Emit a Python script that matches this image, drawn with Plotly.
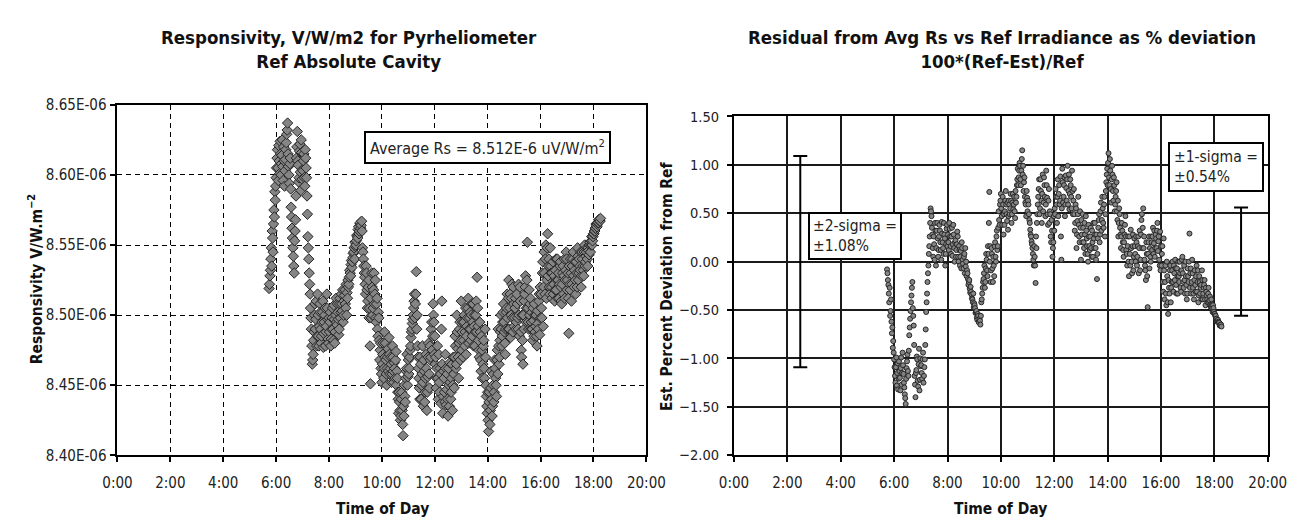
import plotly.graph_objects as go

# ---------------- data ----------------
# sampling times, minutes after midnight (even-minute readings)
minutes_even = [
    344, 346, 348, 350, 352, 354, 356, 358,
    360, 362, 364, 366, 368, 370, 372, 374, 376, 378, 380, 382, 384, 386, 388, 390, 392, 394, 396, 398, 400, 402, 404, 406, 408, 410, 412, 414, 416, 418, 420,
    422, 424, 426, 428, 430, 432, 434, 436, 438, 440, 442, 444, 446, 448, 450, 452, 454, 456, 458, 460, 462, 464, 466, 468, 470, 472, 474, 476, 478, 480,
    482, 484, 486, 488, 490, 492, 494, 496, 498, 500, 502, 504, 506, 508, 510, 512, 514, 516, 518, 520, 522, 524, 526, 528, 530, 532, 534, 536, 538, 540,
    542, 544, 546, 548, 550, 552, 554, 556, 558, 560, 562, 564, 566, 568, 570, 572, 574, 576, 578, 580, 582, 584, 586, 588, 590, 592, 594, 596, 598, 600,
    602, 604, 606, 608, 610, 612, 614, 616, 618, 620, 622, 624, 626, 628, 630, 632, 634, 636, 638, 640, 642, 644, 646, 648, 650, 652, 654, 656, 658, 660,
    662, 664, 666, 668, 670, 672, 674, 676, 678, 680, 682, 684, 686, 688, 690, 692, 694, 696, 698, 700, 702, 704, 706, 708, 710, 712, 714, 716, 718, 720,
    722, 724, 726, 728, 730, 732, 734, 736, 738, 740, 742, 744, 746, 748, 750, 752, 754, 756, 758, 760, 762, 764, 766, 768, 770, 772, 774, 776, 778, 780,
    782, 784, 786, 788, 790, 792, 794, 796, 798, 800, 802, 804, 806, 808, 810, 812, 814, 816, 818, 820, 822, 824, 826, 828, 830, 832, 834, 836, 838, 840,
    842, 844, 846, 848, 850, 852, 854, 856, 858, 860, 862, 864, 866, 868, 870, 872, 874, 876, 878, 880, 882, 884, 886, 888, 890, 892, 894, 896, 898, 900,
    902, 904, 906, 908, 910, 912, 914, 916, 918, 920, 922, 924, 926, 928, 930, 932, 934, 936, 938, 940, 942, 944, 946, 948, 950, 952, 954, 956, 958, 960,
    962, 964, 966, 968, 970, 972, 974, 976, 978, 980, 982, 984, 986, 988, 990, 992, 994, 996, 998, 1000, 1002, 1004, 1006, 1008, 1010, 1012, 1014, 1016, 1018, 1020,
    1022, 1024, 1026, 1028, 1030, 1032, 1034, 1036, 1038, 1040, 1042, 1044, 1046, 1048, 1050, 1052, 1054, 1056, 1058, 1060, 1062, 1064, 1066, 1068, 1070, 1072, 1074, 1076, 1078, 1080, 1082, 1084, 1086, 1088, 1090, 1092, 1094, 1096,
]
# odd-minute readings
minutes_odd = [
    345, 347, 349, 351, 353, 355, 357, 359,
    361, 363, 365, 367, 369, 371, 373, 375, 377, 379, 381, 383, 385, 387, 389, 391, 393, 395, 397, 399, 401, 403, 405, 407, 409, 411, 413, 415, 417, 419,
    421, 423, 425, 427, 429, 431, 433, 435, 437, 439, 441, 443, 445, 447, 449, 451, 453, 455, 457, 459, 461, 463, 465, 467, 469, 471, 473, 475, 477, 479,
    481, 483, 485, 487, 489, 491, 493, 495, 497, 499, 501, 503, 505, 507, 509, 511, 513, 515, 517, 519, 521, 523, 525, 527, 529, 531, 533, 535, 537, 539,
    541, 543, 545, 547, 549, 551, 553, 555, 557, 559, 561, 563, 565, 567, 569, 571, 573, 575, 577, 579, 581, 583, 585, 587, 589, 591, 593, 595, 597, 599,
    601, 603, 605, 607, 609, 611, 613, 615, 617, 619, 621, 623, 625, 627, 629, 631, 633, 635, 637, 639, 641, 643, 645, 647, 649, 651, 653, 655, 657, 659,
    661, 663, 665, 667, 669, 671, 673, 675, 677, 679, 681, 683, 685, 687, 689, 691, 693, 695, 697, 699, 701, 703, 705, 707, 709, 711, 713, 715, 717, 719,
    721, 723, 725, 727, 729, 731, 733, 735, 737, 739, 741, 743, 745, 747, 749, 751, 753, 755, 757, 759, 761, 763, 765, 767, 769, 771, 773, 775, 777, 779,
    781, 783, 785, 787, 789, 791, 793, 795, 797, 799, 801, 803, 805, 807, 809, 811, 813, 815, 817, 819, 821, 823, 825, 827, 829, 831, 833, 835, 837, 839,
    841, 843, 845, 847, 849, 851, 853, 855, 857, 859, 861, 863, 865, 867, 869, 871, 873, 875, 877, 879, 881, 883, 885, 887, 889, 891, 893, 895, 897, 899,
    901, 903, 905, 907, 909, 911, 913, 915, 917, 919, 921, 923, 925, 927, 929, 931, 933, 935, 937, 939, 941, 943, 945, 947, 949, 951, 953, 955, 957, 959,
    961, 963, 965, 967, 969, 971, 973, 975, 977, 979, 981, 983, 985, 987, 989, 991, 993, 995, 997, 999, 1001, 1003, 1005, 1007, 1009, 1011, 1013, 1015, 1017, 1019,
    1021, 1023, 1025, 1027, 1029, 1031, 1033, 1035, 1037, 1039, 1041, 1043, 1045, 1047, 1049, 1051, 1053, 1055, 1057, 1059, 1061, 1063, 1065, 1067, 1069, 1071, 1073, 1075, 1077, 1079, 1081, 1083, 1085, 1087, 1089, 1091, 1093, 1095,
]

# Responsivity (units of 1E-06 V/W/m2), even minutes, per hour block
rs_e_05 = [8.519, 8.528, 8.54, 8.535, 8.555, 8.565, 8.57, 8.582]
rs_e_06 = [8.598, 8.612, 8.605, 8.621, 8.601, 8.615, 8.608, 8.625, 8.596, 8.61,
           8.603, 8.618, 8.629, 8.637, 8.606, 8.594, 8.612, 8.577, 8.562, 8.548,
           8.535, 8.553, 8.568, 8.612, 8.631, 8.607, 8.598, 8.622, 8.589, 8.616, 8.604]
rs_e_07 = [8.61, 8.598, 8.618, 8.605, 8.585, 8.556, 8.54, 8.522, 8.505, 8.49,
           8.465, 8.472, 8.488, 8.508, 8.497, 8.478, 8.515, 8.485, 8.492, 8.502,
           8.48, 8.495, 8.51, 8.487, 8.5, 8.478, 8.492, 8.505, 8.483, 8.498]
rs_e_08 = [8.495, 8.478, 8.49, 8.505, 8.482, 8.497, 8.488, 8.512, 8.493, 8.502,
           8.486, 8.508, 8.498, 8.515, 8.503, 8.495, 8.51, 8.518, 8.505, 8.5,
           8.512, 8.52, 8.527, 8.53, 8.536, 8.534, 8.541, 8.545, 8.54, 8.549]
rs_e_09 = [8.553, 8.556, 8.561, 8.558, 8.565, 8.562, 8.567, 8.548, 8.54, 8.53,
           8.522, 8.535, 8.518, 8.51, 8.525, 8.505, 8.451, 8.498, 8.52, 8.505,
           8.53, 8.515, 8.498, 8.508, 8.49, 8.502, 8.482, 8.475, 8.462, 8.452]
rs_e_10 = [8.472, 8.455, 8.488, 8.48, 8.458, 8.462, 8.476, 8.484, 8.458, 8.47,
           8.452, 8.478, 8.46, 8.466, 8.455, 8.474, 8.46, 8.445, 8.43, 8.438,
           8.425, 8.44, 8.432, 8.414, 8.428, 8.442, 8.455, 8.462, 8.45, 8.468]
rs_e_11 = [8.462, 8.475, 8.484, 8.49, 8.497, 8.505, 8.515, 8.508, 8.531, 8.5,
           8.47, 8.455, 8.44, 8.465, 8.45, 8.478, 8.435, 8.46, 8.445, 8.472,
           8.432, 8.456, 8.48, 8.448, 8.468, 8.49, 8.475, 8.508, 8.495, 8.485]
rs_e_12 = [8.47, 8.455, 8.478, 8.44, 8.452, 8.462, 8.437, 8.51, 8.43, 8.46,
           8.445, 8.472, 8.436, 8.458, 8.428, 8.45, 8.466, 8.44, 8.455, 8.432,
           8.47, 8.448, 8.485, 8.462, 8.5, 8.476, 8.455, 8.49, 8.468, 8.51]
rs_e_13 = [8.488, 8.47, 8.495, 8.478, 8.505, 8.485, 8.498, 8.512, 8.49, 8.502,
           8.482, 8.508, 8.495, 8.478, 8.5, 8.488, 8.51, 8.527, 8.492, 8.475,
           8.495, 8.468, 8.485, 8.455, 8.478, 8.462, 8.49, 8.45, 8.435, 8.445]
rs_e_14 = [8.417, 8.445, 8.432, 8.46, 8.428, 8.45, 8.438, 8.468, 8.455, 8.442,
           8.475, 8.49, 8.465, 8.482, 8.5, 8.478, 8.495, 8.508, 8.488, 8.472,
           8.502, 8.515, 8.49, 8.525, 8.505, 8.484, 8.512, 8.498, 8.52, 8.492]
rs_e_15 = [8.505, 8.49, 8.515, 8.498, 8.522, 8.485, 8.51, 8.475, 8.5, 8.465,
           8.49, 8.515, 8.528, 8.505, 8.552, 8.495, 8.518, 8.508, 8.49, 8.502,
           8.482, 8.496, 8.508, 8.488, 8.5, 8.478, 8.494, 8.51, 8.486, 8.498]
rs_e_16 = [8.505, 8.53, 8.492, 8.545, 8.515, 8.55, 8.525, 8.558, 8.535, 8.52,
           8.548, 8.53, 8.512, 8.538, 8.522, 8.51, 8.532, 8.518, 8.54, 8.525,
           8.512, 8.535, 8.52, 8.508, 8.53, 8.515, 8.54, 8.525, 8.545, 8.518]
rs_e_17 = [8.53, 8.487, 8.522, 8.54, 8.51, 8.535, 8.545, 8.52, 8.538, 8.515,
           8.53, 8.548, 8.525, 8.54, 8.532, 8.52, 8.545, 8.535, 8.528, 8.55,
           8.538, 8.545, 8.54, 8.548, 8.543, 8.552, 8.55, 8.556, 8.553, 8.558,
           8.56, 8.562, 8.565, 8.563, 8.566, 8.568, 8.567, 8.569]

# Responsivity, odd minutes
rs_o_05 = [8.522, 8.532, 8.548, 8.56, 8.545, 8.575, 8.588, 8.592]
rs_o_06 = [8.605, 8.618, 8.596, 8.61, 8.624, 8.6, 8.614, 8.606, 8.62, 8.592,
           8.611, 8.623, 8.632, 8.615, 8.6, 8.608, 8.59, 8.57, 8.555, 8.542,
           8.53, 8.56, 8.585, 8.62, 8.61, 8.595, 8.617, 8.602, 8.625, 8.597]
rs_o_07 = [8.603, 8.615, 8.592, 8.612, 8.598, 8.572, 8.548, 8.53, 8.515, 8.498,
           8.478, 8.468, 8.482, 8.5, 8.49, 8.51, 8.485, 8.5, 8.478, 8.508,
           8.49, 8.485, 8.502, 8.477, 8.495, 8.505, 8.488, 8.515, 8.497, 8.48]
rs_o_08 = [8.488, 8.502, 8.483, 8.498, 8.49, 8.507, 8.48, 8.5, 8.495, 8.508,
           8.497, 8.49, 8.512, 8.502, 8.508, 8.518, 8.5, 8.514, 8.508, 8.522,
           8.516, 8.525, 8.522, 8.532, 8.528, 8.539, 8.538, 8.544, 8.548, 8.552]
rs_o_09 = [8.55, 8.557, 8.555, 8.563, 8.56, 8.566, 8.564, 8.56, 8.545, 8.535,
           8.527, 8.515, 8.53, 8.505, 8.52, 8.498, 8.478, 8.512, 8.53, 8.5,
           8.518, 8.508, 8.525, 8.495, 8.512, 8.485, 8.498, 8.468, 8.48, 8.458]
rs_o_10 = [8.465, 8.48, 8.462, 8.47, 8.468, 8.45, 8.47, 8.46, 8.472, 8.462,
           8.465, 8.458, 8.47, 8.452, 8.462, 8.468, 8.45, 8.455, 8.44, 8.445,
           8.432, 8.428, 8.445, 8.422, 8.435, 8.45, 8.438, 8.46, 8.472, 8.456]
rs_o_11 = [8.458, 8.47, 8.478, 8.488, 8.494, 8.5, 8.51, 8.498, 8.515, 8.49,
           8.478, 8.462, 8.448, 8.47, 8.44, 8.458, 8.452, 8.468, 8.438, 8.455,
           8.462, 8.445, 8.47, 8.458, 8.478, 8.47, 8.495, 8.485, 8.5, 8.472]
rs_o_12 = [8.465, 8.448, 8.462, 8.455, 8.472, 8.445, 8.458, 8.49, 8.465, 8.442,
           8.455, 8.438, 8.462, 8.447, 8.44, 8.462, 8.435, 8.452, 8.445, 8.465,
           8.45, 8.458, 8.47, 8.478, 8.465, 8.488, 8.47, 8.48, 8.495, 8.482]
rs_o_13 = [8.475, 8.495, 8.482, 8.5, 8.488, 8.472, 8.492, 8.505, 8.48, 8.498,
           8.49, 8.5, 8.485, 8.508, 8.492, 8.478, 8.5, 8.488, 8.505, 8.482,
           8.47, 8.488, 8.46, 8.475, 8.465, 8.482, 8.455, 8.47, 8.442, 8.43]
rs_o_14 = [8.425, 8.438, 8.422, 8.448, 8.44, 8.435, 8.458, 8.445, 8.462, 8.45,
           8.468, 8.458, 8.478, 8.47, 8.488, 8.49, 8.485, 8.502, 8.495, 8.48,
           8.49, 8.505, 8.498, 8.512, 8.49, 8.515, 8.5, 8.522, 8.488, 8.508]
rs_o_15 = [8.498, 8.512, 8.495, 8.508, 8.49, 8.5, 8.52, 8.488, 8.47, 8.482,
           8.5, 8.51, 8.52, 8.495, 8.525, 8.505, 8.49, 8.5, 8.512, 8.495,
           8.49, 8.505, 8.485, 8.5, 8.492, 8.485, 8.503, 8.49, 8.515, 8.52]
rs_o_16 = [8.515, 8.498, 8.538, 8.52, 8.53, 8.54, 8.512, 8.548, 8.528, 8.54,
           8.515, 8.535, 8.52, 8.53, 8.515, 8.528, 8.518, 8.54, 8.525, 8.512,
           8.53, 8.522, 8.538, 8.51, 8.522, 8.535, 8.528, 8.512, 8.532, 8.54]
rs_o_17 = [8.525, 8.512, 8.535, 8.518, 8.53, 8.522, 8.54, 8.528, 8.532, 8.525,
           8.538, 8.52, 8.542, 8.53, 8.535, 8.545, 8.528, 8.54, 8.532, 8.545,
           8.535, 8.542, 8.548, 8.535, 8.546, 8.55, 8.545, 8.553, 8.55, 8.556,
           8.558, 8.56, 8.562, 8.564, 8.565, 8.566, 8.568, 8.567]

# Residual from average Rs, % deviation, even minutes
res_e_05 = [-0.08, -0.19, -0.33, -0.27, -0.51, -0.62, -0.68, -0.82]
res_e_06 = [-1.01, -1.18, -1.09, -1.28, -1.05, -1.21, -1.13, -1.33, -0.99, -1.15,
            -1.07, -1.25, -1.37, -1.47, -1.10, -0.96, -1.18, -0.76, -0.59, -0.42,
            -0.27, -0.48, -0.66, -1.18, -1.40, -1.12, -1.01, -1.29, -0.90, -1.22, -1.08]
res_e_07 = [-1.15, -1.01, -1.25, -1.09, -0.86, -0.52, -0.33, -0.12, 0.08, 0.26,
            0.55, 0.47, 0.28, 0.05, 0.18, 0.40, -0.04, 0.32, 0.24, 0.12,
            0.38, 0.20, 0.02, 0.29, 0.14, 0.40, 0.24, 0.08, 0.34, 0.16]
res_e_08 = [0.20, 0.40, 0.26, 0.08, 0.35, 0.18, 0.28, 0.00, 0.22, 0.12,
            0.31, 0.05, 0.16, -0.04, 0.11, 0.20, 0.02, -0.07, 0.08, 0.14,
            0.00, -0.09, -0.18, -0.21, -0.28, -0.26, -0.34, -0.39, -0.33, -0.43]
res_e_09 = [-0.48, -0.52, -0.58, -0.54, -0.62, -0.59, -0.65, -0.42, -0.33, -0.21,
            -0.12, -0.27, -0.07, 0.02, -0.15, 0.08, 0.72, 0.16, -0.09, 0.08,
            -0.21, -0.04, 0.16, 0.05, 0.26, 0.12, 0.35, 0.43, 0.59, 0.70]
res_e_10 = [0.47, 0.67, 0.28, 0.38, 0.63, 0.59, 0.42, 0.33, 0.63, 0.49,
            0.70, 0.40, 0.61, 0.54, 0.67, 0.45, 0.61, 0.79, 0.96, 0.87,
            1.02, 0.85, 0.94, 1.15, 0.99, 0.82, 0.67, 0.59, 0.73, 0.52]
res_e_11 = [0.59, 0.43, 0.33, 0.26, 0.18, 0.08, -0.04, 0.05, -0.22, 0.14,
            0.49, 0.67, 0.85, 0.55, 0.73, 0.40, 0.90, 0.61, 0.79, 0.47,
            0.94, 0.66, 0.38, 0.75, 0.52, 0.26, 0.43, 0.05, 0.20, 0.32]
res_e_12 = [0.49, 0.67, 0.40, 0.85, 0.70, 0.59, 0.88, 0.02, 0.96, 0.61,
            0.79, 0.47, 0.89, 0.63, 0.99, 0.73, 0.54, 0.85, 0.67, 0.94,
            0.49, 0.75, 0.32, 0.59, 0.14, 0.42, 0.67, 0.26, 0.52, 0.02]
res_e_13 = [0.28, 0.49, 0.20, 0.40, 0.08, 0.32, 0.16, 0.00, 0.26, 0.12,
            0.35, 0.05, 0.20, 0.40, 0.14, 0.28, 0.02, -0.18, 0.24, 0.43,
            0.20, 0.52, 0.32, 0.67, 0.40, 0.59, 0.26, 0.73, 0.90, 0.79]
res_e_14 = [1.12, 0.79, 0.94, 0.61, 0.99, 0.73, 0.87, 0.52, 0.67, 0.82,
            0.43, 0.26, 0.55, 0.35, 0.14, 0.40, 0.20, 0.05, 0.28, 0.47,
            0.12, -0.04, 0.26, -0.15, 0.08, 0.33, 0.00, 0.16, -0.09, 0.24]
res_e_15 = [0.08, 0.26, -0.04, 0.16, -0.12, 0.32, 0.02, 0.43, 0.14, 0.55,
            0.26, -0.04, -0.19, 0.08, -0.47, 0.20, -0.07, 0.05, 0.26, 0.12,
            0.35, 0.19, 0.05, 0.28, 0.14, 0.40, 0.21, 0.02, 0.31, 0.16]
res_e_16 = [0.08, -0.21, 0.24, -0.39, -0.04, -0.45, -0.15, -0.54, -0.27, -0.09,
            -0.42, -0.21, 0.00, -0.31, -0.12, 0.02, -0.24, -0.07, -0.33, -0.15,
            0.00, -0.27, -0.09, 0.05, -0.21, -0.04, -0.33, -0.15, -0.39, -0.07]
res_e_17 = [-0.21, 0.29, -0.12, -0.33, 0.02, -0.27, -0.39, -0.09, -0.31, -0.04,
            -0.21, -0.42, -0.15, -0.33, -0.24, -0.09, -0.39, -0.27, -0.19, -0.45,
            -0.31, -0.39, -0.33, -0.42, -0.36, -0.47, -0.45, -0.52, -0.48, -0.54,
            -0.56, -0.59, -0.62, -0.60, -0.63, -0.66, -0.65, -0.67]

# Residual, odd minutes
res_o_05 = [-0.12, -0.24, -0.42, -0.56, -0.39, -0.74, -0.89, -0.94]
res_o_06 = [-1.09, -1.25, -0.99, -1.15, -1.32, -1.03, -1.20, -1.10, -1.27, -0.94,
            -1.16, -1.30, -1.41, -1.21, -1.03, -1.13, -0.92, -0.68, -0.51, -0.35,
            -0.21, -0.56, -0.86, -1.27, -1.15, -0.98, -1.23, -1.06, -1.33, -1.00]
res_o_07 = [-1.07, -1.21, -0.94, -1.18, -1.01, -0.70, -0.42, -0.21, -0.04, 0.16,
            0.40, 0.52, 0.35, 0.14, 0.26, 0.02, 0.32, 0.14, 0.40, 0.05,
            0.26, 0.32, 0.12, 0.41, 0.20, 0.08, 0.28, -0.04, 0.18, 0.38]
res_o_08 = [0.28, 0.12, 0.34, 0.16, 0.26, 0.06, 0.38, 0.14, 0.20, 0.05,
            0.18, 0.26, 0.00, 0.12, 0.05, -0.07, 0.14, -0.02, 0.05, -0.12,
            -0.05, -0.15, -0.12, -0.24, -0.19, -0.32, -0.31, -0.38, -0.42, -0.47]
res_o_09 = [-0.45, -0.53, -0.51, -0.60, -0.56, -0.63, -0.61, -0.56, -0.39, -0.27,
            -0.18, -0.04, -0.21, 0.08, -0.09, 0.16, 0.40, 0.00, -0.21, 0.14,
            -0.07, 0.05, -0.15, 0.20, 0.00, 0.32, 0.16, 0.52, 0.38, 0.63]
res_o_10 = [0.55, 0.38, 0.59, 0.49, 0.52, 0.73, 0.49, 0.61, 0.47, 0.59,
            0.55, 0.63, 0.49, 0.70, 0.59, 0.52, 0.73, 0.67, 0.85, 0.79,
            0.94, 0.99, 0.79, 1.06, 0.90, 0.73, 0.87, 0.61, 0.47, 0.66]
res_o_11 = [0.63, 0.49, 0.40, 0.28, 0.21, 0.14, 0.02, 0.16, -0.04, 0.26,
            0.40, 0.59, 0.75, 0.49, 0.85, 0.63, 0.70, 0.52, 0.87, 0.67,
            0.59, 0.79, 0.49, 0.63, 0.40, 0.49, 0.20, 0.32, 0.14, 0.47]
res_o_12 = [0.55, 0.75, 0.59, 0.67, 0.47, 0.79, 0.63, 0.26, 0.55, 0.82,
            0.67, 0.87, 0.59, 0.76, 0.85, 0.59, 0.90, 0.70, 0.79, 0.55,
            0.73, 0.63, 0.49, 0.40, 0.55, 0.28, 0.49, 0.38, 0.20, 0.35]
res_o_13 = [0.43, 0.20, 0.35, 0.14, 0.28, 0.47, 0.24, 0.08, 0.38, 0.16,
            0.26, 0.14, 0.32, 0.05, 0.24, 0.40, 0.14, 0.28, 0.08, 0.35,
            0.49, 0.28, 0.61, 0.43, 0.55, 0.35, 0.67, 0.49, 0.82, 0.96]
res_o_14 = [1.02, 0.87, 1.06, 0.75, 0.85, 0.90, 0.63, 0.79, 0.59, 0.73,
            0.52, 0.63, 0.40, 0.49, 0.28, 0.26, 0.32, 0.12, 0.20, 0.38,
            0.26, 0.08, 0.16, 0.00, 0.26, -0.04, 0.14, -0.12, 0.28, 0.05]
res_o_15 = [0.16, 0.00, 0.20, 0.05, 0.26, 0.14, -0.09, 0.28, 0.49, 0.35,
            0.14, 0.02, -0.09, 0.20, -0.15, 0.08, 0.26, 0.14, 0.00, 0.20,
            0.26, 0.08, 0.32, 0.14, 0.24, 0.32, 0.11, 0.26, -0.04, -0.09]
res_o_16 = [-0.04, 0.16, -0.31, -0.09, -0.21, -0.33, 0.00, -0.42, -0.19, -0.33,
            -0.04, -0.27, -0.09, -0.21, -0.04, -0.19, -0.07, -0.33, -0.15, 0.00,
            -0.21, -0.12, -0.31, 0.02, -0.12, -0.27, -0.19, 0.00, -0.24, -0.33]
res_o_17 = [-0.15, 0.00, -0.27, -0.07, -0.21, -0.12, -0.33, -0.19, -0.24, -0.15,
            -0.31, -0.09, -0.35, -0.21, -0.27, -0.39, -0.19, -0.33, -0.24, -0.39,
            -0.27, -0.35, -0.42, -0.27, -0.40, -0.45, -0.39, -0.48, -0.45, -0.52,
            -0.54, -0.56, -0.59, -0.61, -0.62, -0.63, -0.66, -0.65]

# sigma bars: position (minutes) and half-length (%)
sigma_bar_minutes = [149, 1140]
sigma_bar_halflen = [1.09, 0.56]

# axis ticks
x_tick_minutes = [0, 120, 240, 360, 480, 600, 720, 840, 960, 1080, 1200]
x_tick_labels = ["0:00", "2:00", "4:00", "6:00", "8:00", "10:00", "12:00",
                 "14:00", "16:00", "18:00", "20:00"]
rs_tick_vals = [8.40, 8.45, 8.50, 8.55, 8.60, 8.65]
rs_tick_labels = ["8.40E-06", "8.45E-06", "8.50E-06", "8.55E-06", "8.60E-06", "8.65E-06"]
res_tick_vals = [-2.0, -1.5, -1.0, -0.5, 0.0, 0.5, 1.0, 1.5]
res_tick_labels = ["\u22122.00", "\u22121.50", "\u22121.00", "\u22120.50", "0.00", "0.50", "1.00", "1.50"]

# ---------------- assemble ----------------
rs_even = (rs_e_05 + rs_e_06 + rs_e_07 + rs_e_08 + rs_e_09 + rs_e_10 + rs_e_11 +
           rs_e_12 + rs_e_13 + rs_e_14 + rs_e_15 + rs_e_16 + rs_e_17)
rs_odd = (rs_o_05 + rs_o_06 + rs_o_07 + rs_o_08 + rs_o_09 + rs_o_10 + rs_o_11 +
          rs_o_12 + rs_o_13 + rs_o_14 + rs_o_15 + rs_o_16 + rs_o_17)
res_even = (res_e_05 + res_e_06 + res_e_07 + res_e_08 + res_e_09 + res_e_10 + res_e_11 +
            res_e_12 + res_e_13 + res_e_14 + res_e_15 + res_e_16 + res_e_17)
res_odd = (res_o_05 + res_o_06 + res_o_07 + res_o_08 + res_o_09 + res_o_10 + res_o_11 +
           res_o_12 + res_o_13 + res_o_14 + res_o_15 + res_o_16 + res_o_17)

pts_rs = sorted(list(zip(minutes_even, rs_even)) + list(zip(minutes_odd, rs_odd)))
pts_res = sorted(list(zip(minutes_even, res_even)) + list(zip(minutes_odd, res_odd)))

FONT = "DejaVu Sans Condensed, DejaVu Sans, sans-serif"
W, H = 1307, 520


def px(x):
    return x / W


def py(y):
    return 1 - y / H


fig = go.Figure()

fig.add_trace(go.Scatter(
    x=[p[0] for p in pts_rs], y=[p[1] for p in pts_rs], mode="markers",
    marker=dict(symbol="diamond", size=8, color="#858585",
                line=dict(color="#262626", width=1)),
    xaxis="x", yaxis="y", showlegend=False, hoverinfo="skip"))

fig.add_trace(go.Scatter(
    x=[p[0] for p in pts_res], y=[p[1] for p in pts_res], mode="markers",
    marker=dict(symbol="circle", size=5, color="#858585",
                line=dict(color="#262626", width=1)),
    xaxis="x2", yaxis="y2", showlegend=False, hoverinfo="skip"))

fig.add_trace(go.Scatter(
    x=sigma_bar_minutes, y=[0, 0], mode="markers",
    marker=dict(size=1, color="rgba(0,0,0,0)"),
    error_y=dict(type="data", array=sigma_bar_halflen, visible=True,
                 color="black", thickness=2, width=7),
    xaxis="x2", yaxis="y2", showlegend=False, hoverinfo="skip"))

axis_common = dict(showline=True, linecolor="black", linewidth=2, mirror=True,
                   ticks="outside", ticklen=5, tickwidth=1.5, tickcolor="black",
                   zeroline=False)
tick_font = dict(family=FONT, size=15, color="#222")

fig.update_layout(
    width=W, height=H,
    margin=dict(l=0, r=0, t=0, b=0),
    paper_bgcolor="white", plot_bgcolor="white",
    font=dict(family=FONT, color="#222"),
    xaxis=dict(domain=[px(97), px(640)], range=[0, 1200],
               tickvals=x_tick_minutes, ticktext=x_tick_labels,
               showgrid=True, gridcolor="black", gridwidth=1, griddash="5px,4px",
               ticklabelstandoff=8, anchor="y", tickfont=tick_font, **axis_common),
    yaxis=dict(domain=[py(454), py(91)], range=[8.40, 8.65],
               tickvals=rs_tick_vals, ticktext=rs_tick_labels,
               showgrid=True, gridcolor="black", gridwidth=1, griddash="5px,4px",
               ticklabelstandoff=1, anchor="x", tickfont=tick_font, **axis_common),
    xaxis2=dict(domain=[px(730), px(1278)], range=[0, 1200],
                tickvals=x_tick_minutes, ticktext=x_tick_labels,
                showgrid=True, gridcolor="#1a1a1a", gridwidth=1.5,
                ticklabelstandoff=8, anchor="y2", tickfont=tick_font, **axis_common),
    yaxis2=dict(domain=[py(454), py(103)], range=[-2.0, 1.5],
                tickvals=res_tick_vals, ticktext=res_tick_labels,
                showgrid=True, gridcolor="#1a1a1a", gridwidth=1.5,
                ticklabelstandoff=5, anchor="x2",
                tickfont=dict(family=FONT, size=14.5, color="#222"), **axis_common),
)

title_font = dict(family=FONT, size=18.5, color="#111")
axis_title_font = dict(family=FONT, size=15.5, color="#111")
box_font = dict(family=FONT, size=16, color="#222")
sigma_font = dict(family=FONT, size=15.5, color="#222")
annotations = [
    dict(text="<b>Responsivity, V/W/m2 for Pyrheliometer<br>Ref Absolute Cavity</b>",
         x=px(335), y=py(34), xref="paper", yref="paper", showarrow=False,
         xanchor="center", yanchor="middle", font=title_font),
    dict(text="<b>Residual from Avg Rs vs Ref Irradiance as % deviation<br>100*(Ref-Est)/Ref</b>",
         x=px(1005), y=py(34), xref="paper", yref="paper", showarrow=False,
         xanchor="center", yanchor="middle", font=title_font),
    dict(text="<b>Time of Day</b>", x=px(369), y=py(510), xref="paper", yref="paper",
         showarrow=False, xanchor="center", yanchor="middle", font=axis_title_font),
    dict(text="<b>Time of Day</b>", x=px(1004), y=py(510), xref="paper", yref="paper",
         showarrow=False, xanchor="center", yanchor="middle", font=axis_title_font),
    dict(text="<b>Responsivity V/W.m<sup>\u22122</sup></b>", x=px(13), y=py(272),
         xref="paper", yref="paper", showarrow=False, textangle=-90,
         xanchor="center", yanchor="middle", font=axis_title_font),
    dict(text="<b>Est. Percent Deviation from Ref</b>", x=px(662), y=py(279),
         xref="paper", yref="paper", showarrow=False, textangle=-90,
         xanchor="center", yanchor="middle", font=axis_title_font),
    dict(text="Average Rs = 8.512E-6 uV/W/m<sup>2</sup>", x=px(477), y=py(135),
         xref="paper", yref="paper", showarrow=False, xanchor="center", yanchor="middle",
         bgcolor="white", bordercolor="black", borderwidth=2, borderpad=4,
         font=box_font),
    dict(text="\u00b12-sigma =<br>\u00b11.08%", x=px(854), y=py(227), align="left",
         xref="paper", yref="paper", showarrow=False, xanchor="center", yanchor="middle",
         bgcolor="white", bordercolor="black", borderwidth=2, borderpad=3,
         font=sigma_font),
    dict(text="\u00b11-sigma =<br>\u00b10.54%", x=px(1225), y=py(155), align="left",
         xref="paper", yref="paper", showarrow=False, xanchor="center", yanchor="middle",
         bgcolor="white", bordercolor="black", borderwidth=2, borderpad=4,
         font=sigma_font),
]
fig.update_layout(annotations=annotations)

fig.write_html("out.html")
